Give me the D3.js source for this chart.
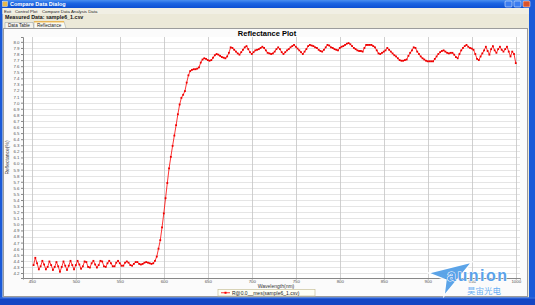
<!DOCTYPE html>
<html>
<head>
<meta charset="utf-8">
<script src="https://cdn.jsdelivr.net/npm/d3@7"></script>
<style>
  body { margin: 0; background: #ece9d8; }
  text { font-family: "Liberation Sans", Arial, sans-serif; }
</style>
</head>
<body>
<div id="chart"></div>
<script>
// measured reflectance, sampled every 2 nm
var wavelengths = [
  452,454,456,458,460,462,464,466,468,470,
  472,474,476,478,480,482,484,486,488,490,
  492,494,496,498,500,502,504,506,508,510,
  512,514,516,518,520,522,524,526,528,530,
  532,534,536,538,540,542,544,546,548,550,
  552,554,556,558,560,562,564,566,568,570,
  572,574,576,578,580,582,584,586,588,590,
  592,594,596,598,600,602,604,606,608,610,
  612,614,616,618,620,622,624,626,628,630,
  632,634,636,638,640,642,644,646,648,650,
  652,654,656,658,660,662,664,666,668,670,
  672,674,676,678,680,682,684,686,688,690,
  692,694,696,698,700,702,704,706,708,710,
  712,714,716,718,720,722,724,726,728,730,
  732,734,736,738,740,742,744,746,748,750,
  752,754,756,758,760,762,764,766,768,770,
  772,774,776,778,780,782,784,786,788,790,
  792,794,796,798,800,802,804,806,808,810,
  812,814,816,818,820,822,824,826,828,830,
  832,834,836,838,840,842,844,846,848,850,
  852,854,856,858,860,862,864,866,868,870,
  872,874,876,878,880,882,884,886,888,890,
  892,894,896,898,900,902,904,906,908,910,
  912,914,916,918,920,922,924,926,928,930,
  932,934,936,938,940,942,944,946,948,950,
  952,954,956,958,960,962,964,966,968,970,
  972,974,976,978,980,982,984,986,988,990,
  992,994,996,998,1000
];
var reflectance = [
  4.33,4.45,4.36,4.26,4.31,4.40,4.34,4.26,4.30,4.39,
  4.33,4.25,4.30,4.38,4.31,4.22,4.30,4.39,4.32,4.25,
  4.32,4.40,4.33,4.26,4.33,4.40,4.34,4.27,4.31,4.39,
  4.38,4.30,4.29,4.36,4.40,4.34,4.29,4.33,4.40,4.39,
  4.31,4.30,4.36,4.40,4.36,4.31,4.31,4.37,4.40,4.36,
  4.32,4.32,4.37,4.39,4.37,4.33,4.32,4.35,4.38,4.38,
  4.35,4.34,4.35,4.37,4.38,4.37,4.36,4.35,4.36,4.40,
  4.47,4.60,4.74,4.95,5.18,5.43,5.68,5.92,6.11,6.29,
  6.46,6.63,6.81,6.97,7.08,7.13,7.19,7.33,7.45,7.52,
  7.54,7.55,7.55,7.56,7.58,7.66,7.71,7.73,7.72,7.70,
  7.69,7.70,7.74,7.78,7.80,7.79,7.77,7.75,7.74,7.73,
  7.76,7.82,7.91,7.90,7.87,7.84,7.81,7.79,7.83,7.87,
  7.91,7.93,7.88,7.83,7.80,7.83,7.86,7.87,7.88,7.90,
  7.92,7.90,7.86,7.82,7.81,7.80,7.81,7.84,7.88,7.91,
  7.88,7.83,7.80,7.83,7.86,7.88,7.91,7.93,7.95,7.92,
  7.89,7.86,7.83,7.80,7.84,7.88,7.93,7.95,7.94,7.93,
  7.91,7.90,7.87,7.85,7.84,7.87,7.91,7.95,7.94,7.91,
  7.90,7.88,7.87,7.86,7.90,7.92,7.93,7.95,7.97,7.98,
  7.96,7.93,7.90,7.88,7.86,7.85,7.85,7.84,7.90,7.95,
  7.95,7.95,7.95,7.93,7.91,7.86,7.81,7.80,7.82,7.84,
  7.86,7.90,7.87,7.84,7.81,7.78,7.76,7.73,7.70,7.69,
  7.69,7.70,7.71,7.77,7.82,7.86,7.91,7.90,7.84,7.80,
  7.76,7.73,7.71,7.69,7.68,7.68,7.68,7.68,7.72,7.76,
  7.80,7.83,7.85,7.86,7.84,7.82,7.81,7.82,7.82,7.79,
  7.75,7.73,7.80,7.86,7.90,7.93,7.95,7.92,7.90,7.89,
  7.87,7.80,7.72,7.70,7.76,7.81,7.86,7.92,7.85,7.79,
  7.88,7.93,7.86,7.82,7.88,7.92,7.87,7.84,7.88,7.92,
  7.84,7.76,7.84,7.80,7.65
];
var xTicks = [450,500,550,600,650,700,750,800,850,900,950,1000];
var yTicks = [4.2,4.3,4.4,4.5,4.6,4.7,4.8,4.9,5.0,5.1,5.2,5.3,5.4,5.5,5.6,5.7,5.8,5.9,6.0,
              6.1,6.2,6.3,6.4,6.5,6.6,6.7,6.8,6.9,7.0,7.1,7.2,7.3,7.4,7.5,7.6,7.7,7.8,7.9,8.0];
var menuItems = ["Exit", "Control Plot", "Compare Data", "Analysis Data"];
var seriesName = "R@0.0__mes(sample6_1.csv)";

var W = 535, H = 305;
var plot = { left: 23, right: 520, top: 37, bottom: 278 };

function init() {
  var data = wavelengths.map(function(w, i) { return { w: w, r: reflectance[i] }; });

  var svg = d3.select("#chart").append("svg")
      .attr("width", W)
      .attr("height", H);

  drawWindow(svg);

  var x = d3.scaleLinear().domain([440, 1004.8]).range([plot.left, plot.right]);
  var y = d3.scaleLinear().domain([4.118, 8.08]).range([plot.bottom, plot.top]);

  // chart panel
  svg.append("rect")
      .attr("x", 3.5).attr("y", 28.5).attr("width", 524).attr("height", 268)
      .attr("fill", "#fbfbfb").attr("stroke", "#9c9c9c");

  svg.append("text")
      .attr("x", 267).attr("y", 36.3)
      .attr("text-anchor", "middle")
      .style("font-size", "7.5px").style("font-weight", "bold")
      .text("Reflectance Plot");

  svg.append("rect")
      .attr("x", plot.left).attr("y", plot.top)
      .attr("width", plot.right - plot.left).attr("height", plot.bottom - plot.top)
      .attr("fill", "#ffffff");

  // grid
  svg.append("g").selectAll("line")
      .data(yTicks)
    .enter().append("line")
      .attr("x1", plot.left).attr("x2", plot.right)
      .attr("y1", function(d) { return Math.round(y(d)) + 0.5; })
      .attr("y2", function(d) { return Math.round(y(d)) + 0.5; })
      .attr("stroke", "#dedede").attr("stroke-width", 0.8);

  svg.append("g").selectAll("line")
      .data(xTicks)
    .enter().append("line")
      .attr("y1", plot.top).attr("y2", plot.bottom)
      .attr("x1", function(d) { return Math.round(x(d)) + 0.5; })
      .attr("x2", function(d) { return Math.round(x(d)) + 0.5; })
      .attr("stroke", "#c4c4c4").attr("stroke-width", 0.8);

  // axes
  var yAxis = svg.append("g")
      .attr("transform", "translate(" + plot.left + ",0)")
      .call(d3.axisLeft(y).tickValues(yTicks).tickFormat(d3.format(".1f")).tickSize(2).tickPadding(1.5));
  var xAxis = svg.append("g")
      .attr("transform", "translate(0," + plot.bottom + ")")
      .call(d3.axisBottom(x).tickValues(xTicks).tickFormat(d3.format("d")).tickSize(1.5).tickPadding(0));
  [xAxis, yAxis].forEach(function(g) {
    g.select(".domain").attr("stroke", "#888");
    g.selectAll(".tick line").attr("stroke", "#888");
    g.selectAll("text").style("font-size", "4.4px").attr("fill", "#555")
      .style("font-family", "'Liberation Sans', Arial, sans-serif");
  });

  svg.append("text")
      .attr("transform", "translate(8.5," + ((plot.top + plot.bottom) / 2) + ") rotate(-90)")
      .attr("text-anchor", "middle")
      .style("font-size", "5px").attr("fill", "#333")
      .text("Reflectance(%)");

  svg.append("text")
      .attr("x", 276).attr("y", 288.2)
      .attr("text-anchor", "middle")
      .style("font-size", "5px").attr("fill", "#333")
      .text("Wavelength(nm)");

  // series
  var line = d3.line()
      .x(function(d) { return x(d.w); })
      .y(function(d) { return y(d.r); });

  svg.append("path")
      .datum(data)
      .attr("fill", "none")
      .attr("stroke", "#ff0000")
      .attr("stroke-width", 0.8)
      .attr("d", line);

  svg.append("g").selectAll("rect")
      .data(data)
    .enter().append("rect")
      .attr("x", function(d) { return x(d.w) - 0.9; })
      .attr("y", function(d) { return y(d.r) - 0.9; })
      .attr("width", 1.8).attr("height", 1.8)
      .attr("fill", "#ee0000");

  // legend
  var lg = svg.append("g").attr("transform", "translate(218,289.5)");
  lg.append("rect")
      .attr("width", 97).attr("height", 6.5)
      .attr("fill", "#fffff4").attr("stroke", "#c8c09a").attr("stroke-width", 0.7);
  lg.append("line")
      .attr("x1", 3).attr("x2", 12).attr("y1", 3.25).attr("y2", 3.25)
      .attr("stroke", "#ff0000").attr("stroke-width", 0.8);
  lg.append("rect")
      .attr("x", 6.5).attr("y", 2.25).attr("width", 2).attr("height", 2)
      .attr("fill", "#ff0000");
  lg.append("text")
      .attr("x", 14).attr("y", 5.1)
      .style("font-size", "5px").attr("fill", "#222")
      .text(seriesName);

  drawLogo(svg);
}

function drawWindow(svg) {
  var defs = svg.append("defs");
  var tg = defs.append("linearGradient").attr("id", "titleGrad").attr("x1", 0).attr("x2", 0).attr("y1", 0).attr("y2", 1);
  tg.append("stop").attr("offset", "0%").attr("stop-color", "#4a8ff0");
  tg.append("stop").attr("offset", "40%").attr("stop-color", "#1d66e3");
  tg.append("stop").attr("offset", "100%").attr("stop-color", "#0c4fd2");

  svg.append("rect").attr("width", W).attr("height", H).attr("fill", "#ece9d8");
  svg.append("rect").attr("width", W).attr("height", 8).attr("fill", "url(#titleGrad)");
  // borders
  svg.append("rect").attr("x", 0).attr("y", 0).attr("width", 2.5).attr("height", H).attr("fill", "#1a5ad8");
  svg.append("rect").attr("x", 529).attr("y", 0).attr("width", 6).attr("height", H).attr("fill", "#1a5ad8");
  svg.append("rect").attr("x", 0).attr("y", 297.5).attr("width", W).attr("height", 7.5).attr("fill", "#1446c4");
  svg.append("rect").attr("x", 0).attr("y", 297.5).attr("width", W).attr("height", 1).attr("fill", "#3c78e6");

  // title bar
  svg.append("rect").attr("x", 2.5).attr("y", 1.5).attr("width", 5).attr("height", 5)
      .attr("fill", "#e8b84a").attr("stroke", "#fff").attr("stroke-width", 0.4);
  svg.append("text").attr("x", 10).attr("y", 6)
      .style("font-size", "5.5px").style("font-weight", "bold").attr("fill", "#ffffff")
      .text("Compare Data Dialog");
  [505, 514, 523].forEach(function(bx, i) {
    svg.append("rect").attr("x", bx).attr("y", 1).attr("width", 7).attr("height", 6).attr("rx", 1)
        .attr("fill", i == 2 ? "#d9542c" : "#3a7cf0").attr("stroke", "#fff").attr("stroke-width", 0.5);
  });

  // menu
  svg.append("rect").attr("x", 2.5).attr("y", 8).attr("width", 526.5).attr("height", 6).attr("fill", "#f1efe4");
  var mx = [4, 15, 42, 71];
  svg.append("g").selectAll("text")
      .data(menuItems)
    .enter().append("text")
      .attr("x", function(d, i) { return mx[i]; })
      .attr("y", 12.6)
      .style("font-size", "4.3px").attr("fill", "#222")
      .text(function(d) { return d; });

  svg.append("text").attr("x", 5).attr("y", 19.3)
      .style("font-size", "5.3px").style("font-weight", "bold").attr("fill", "#111")
      .text("Measured Data: sample6_1.csv");

  // tabs
  svg.append("path").attr("d", "M5,28.5 L5,22.5 L33,22.5 L34,28.5").attr("fill", "#f4f3ee").attr("stroke", "#919b9c").attr("stroke-width", 0.5);
  svg.append("path").attr("d", "M34,28.5 L34,21.5 L64,21.5 L66,28.5").attr("fill", "#fbfaf3").attr("stroke", "#919b9c").attr("stroke-width", 0.5);
  svg.append("rect").attr("x", 34).attr("y", 21.2).attr("width", 30).attr("height", 1.2).attr("fill", "#f3b33d");
  svg.append("text").attr("x", 8).attr("y", 26.6).style("font-size", "4.6px").attr("fill", "#222").text("Data Table");
  svg.append("text").attr("x", 37).attr("y", 26.6).style("font-size", "4.6px").attr("fill", "#222").text("Reflectance");
}

function drawLogo(svg) {
  var g = svg.append("g");
  g.append("path")
      .attr("d", "M428,273 L472,262 L444,296 L446,280 Z")
      .attr("fill", "#4b9be6").attr("stroke", "#ffffff").attr("stroke-width", 1.4).attr("opacity", 0.9);
  g.append("text").attr("x", 447).attr("y", 281)
      .style("font-size", "16px").style("font-weight", "bold").style("letter-spacing", "1.5px")
      .attr("fill", "#5aa2ea").attr("stroke", "#ffffff").attr("stroke-width", 1).attr("paint-order", "stroke")
      .text("aunion");
  g.append("text").attr("x", 467).attr("y", 294)
      .style("font-size", "8.5px").style("font-family", "'Noto Sans CJK SC', sans-serif")
      .attr("fill", "#6aaef0").attr("stroke", "#ffffff").attr("stroke-width", 0.6).attr("paint-order", "stroke")
      .text("昊宙光电");
}

init();
</script>
</body>
</html>
